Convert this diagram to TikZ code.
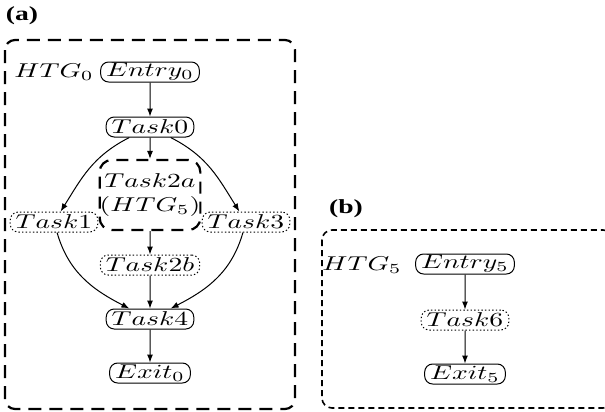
\documentclass[tikz,border=0pt]{standalone}
\usepackage{fontspec}
\newfontfamily\panelfont{Liberation Serif}
\usepackage{tikz}
\usetikzlibrary{arrows.meta, positioning}

\begin{document}
\begin{tikzpicture}[
    x=0.5pt, y=0.5pt,
    wide/.style={xscale=1.38},
    task/.style={wide, rectangle, draw, rounded corners=4pt, line width=0.5pt, inner xsep=2pt, inner ysep=0.5pt, minimum height=10pt},
    ghost/.style={task, dash pattern=on 0.7pt off 1.1pt},
    nested/.style={wide, rectangle, draw, rounded corners=6pt, line width=1.1pt, dash pattern=on 6pt off 4pt, align=center, minimum width=34pt, minimum height=35pt, inner xsep=0pt, inner ysep=1pt},
    panel/.style={wide, font=\panelfont\bfseries\fontsize{10}{12}\selectfont},
    graph/.style={draw, rounded corners=5pt},
    arrow/.style={-{Latex[length=4pt, width=3pt]}, line width=0.5pt},
]
\useasboundingbox (0,0) rectangle (605,-412);

% (a) top level graph
\node[panel] (pa) at (22,-16) {(a)};
\draw[graph, line width=1.1pt, dash pattern=on 6.5pt off 4pt] (5,-40) rectangle (295,-409);
\node[wide] (htg0) at (54,-72) {$HTG_0$};
\node[task] (entry0) at (150,-72) {$Entry_0$};
\node[task] (t0) at (150,-127) {$Task0$};
\node[nested] (t2a) at (150,-195) {$Task2a$\\$(HTG_5)$};
\node[ghost] (t1) at (54,-222) {$Task1$};
\node[ghost] (t3) at (246,-222) {$Task3$};
\node[ghost] (t2b) at (150,-265) {$Task2b$};
\node[task] (t4) at (150,-319) {$Task4$};
\node[task] (exit0) at (150,-373) {$Exit_0$};

\draw[arrow] (entry0) -- (t0);
\draw[arrow] (t0) -- (t2a);
\draw[arrow] (t0) to[out=-150, in=60] (t1);
\draw[arrow] (t0) to[out=-30, in=120] (t3);
\draw[arrow] (t2a) -- (t2b);
\draw[arrow] (t2b) -- (t4);
\draw[arrow] (t1) to[out=-75, in=150] (t4);
\draw[arrow] (t3) to[out=-105, in=30] (t4);
\draw[arrow] (t4) -- (exit0);

% (b) nested graph
\node[panel] (pb) at (346,-209) {(b)};
\draw[graph, line width=0.8pt, dash pattern=on 3pt off 2pt] (322,-230) rectangle (613,-408);
\node[wide] (htg5) at (362,-265) {$HTG_5$};
\node[task] (entry5) at (465,-264) {$Entry_5$};
\node[ghost] (t6) at (465,-320) {$Task6$};
\node[task] (exit5) at (465,-374) {$Exit_5$};

\draw[arrow] (entry5) -- (t6);
\draw[arrow] (t6) -- (exit5);
\end{tikzpicture}
\end{document}
